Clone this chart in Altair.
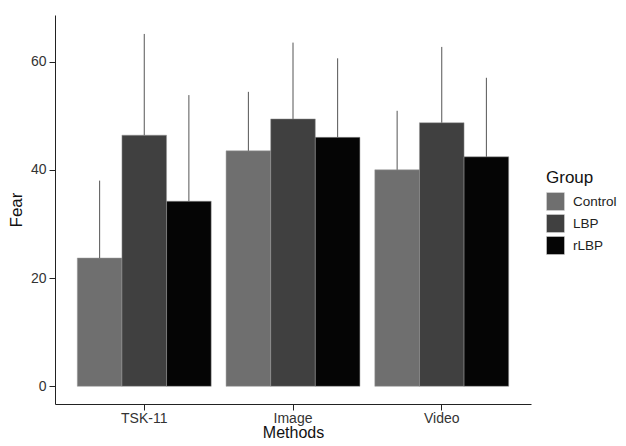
import altair as alt
import pandas as pd

methods = ["TSK-11", "Image", "Video"]
groups = ["Control", "LBP", "rLBP"]
means = [[23.7, 46.4, 34.2], [43.5, 49.4, 46.0], [40.0, 48.7, 42.4]]
upper = [[38.0, 65.1, 53.8], [54.4, 63.5, 60.6], [50.9, 62.7, 57.0]]
colors = ["#6f6f6f", "#404040", "#050505"]

rows = []
for i, m in enumerate(methods):
    for j, g in enumerate(groups):
        rows.append({"Methods": m, "Group": g, "Fear": means[i][j], "Upper": upper[i][j]})
df = pd.DataFrame(rows)

x = alt.X("Methods:N", sort=methods,
          scale=alt.Scale(domain=methods, paddingInner=0.1, paddingOuter=0.15),
          axis=alt.Axis(title="Methods", labelAngle=0, titleY=33.5, titleBaseline="alphabetic"))
xo = alt.XOffset("Group:N", sort=groups, scale=alt.Scale(domain=groups, paddingInner=0, paddingOuter=0))
yscale = alt.Scale(domain=[-3.27, 68.6], nice=False, zero=False)

bars = alt.Chart(df).mark_bar(stroke="#9a9a9a", strokeWidth=0.5).encode(
    x=x, xOffset=xo,
    y=alt.Y("Fear:Q", scale=yscale, axis=alt.Axis(title="Fear", values=[0, 20, 40, 60])),
    y2=alt.datum(0),
    color=alt.Color("Group:N", sort=groups,
                    scale=alt.Scale(domain=groups, range=colors),
                    legend=alt.Legend(title="Group", orient="none", legendX=491, legendY=155,
                                      symbolType="square", symbolSize=324,
                                      symbolStrokeColor="#dddddd", symbolStrokeWidth=0.5,
                                      symbolOpacity=1, rowPadding=1, labelOffset=8,
                                      titleFontSize=17, labelFontSize=13.5,
                                      titleFontWeight="normal", titleColor="#111",
                                      labelColor="#222", titlePadding=5,
                                      labelFont="Liberation Sans", titleFont="Liberation Sans")),
)

errs = alt.Chart(df).mark_rule(color="#555555", strokeWidth=1).encode(
    x=x, xOffset=xo,
    y=alt.Y("Fear:Q", scale=yscale),
    y2="Upper:Q",
)

chart = alt.layer(bars, errs).properties(
    width=476, height=389,
    autosize=alt.AutoSizeParams(type="none"),
    padding={"left": 47, "top": 7, "right": 87, "bottom": 34},
).configure_view(stroke=None).configure_axis(
    grid=False,
    domainColor="#222222", domainWidth=1,
    tickColor="#222222", tickSize=6, tickWidth=1,
    labelFont="Liberation Sans", titleFont="Liberation Sans",
    labelFontSize=14, titleFontSize=17, labelColor="#333333", titleColor="#111111",
    titleFontWeight="normal",
).configure_axisY(titlePadding=5, labelPadding=3).configure_axisX(
    labelPadding=1, titleFontSize=16)

chart.save("out.html", embed_options={"renderer": "svg", "actions": False})
